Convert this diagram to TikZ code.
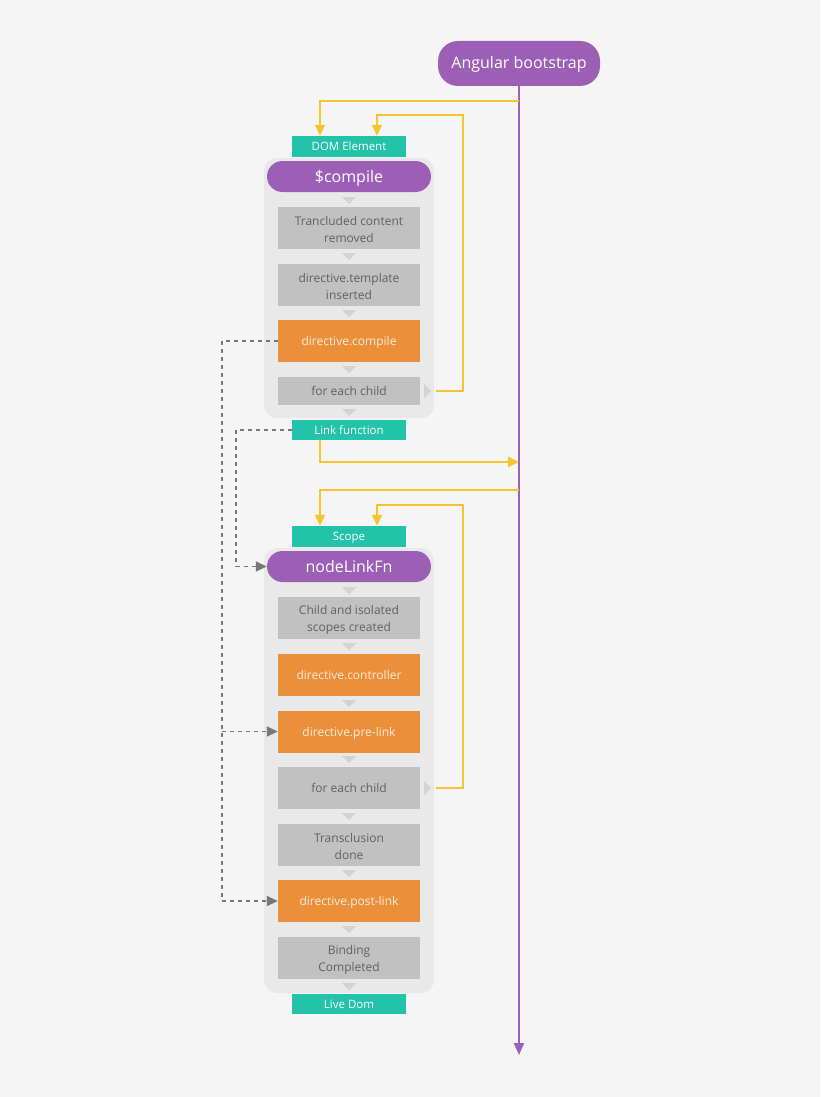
\documentclass[tikz,border=0pt]{standalone}
\usepackage{fontspec}
\setmainfont{Open Sans}
\usetikzlibrary{arrows.meta,calc}
\definecolor{bgc}{HTML}{F5F5F5}
\definecolor{purp}{HTML}{9C5FB5}
\definecolor{teal2}{HTML}{22C3A8}
\definecolor{orng}{HTML}{EB903A}
\definecolor{gbox}{HTML}{C1C1C1}
\definecolor{cont}{HTML}{E9E9E9}
\definecolor{gtext}{HTML}{616161}
\definecolor{otext}{HTML}{FBEADB}
\definecolor{yel}{HTML}{F4C531}
\definecolor{tri}{HTML}{D3D3D3}
\definecolor{dashc}{HTML}{777777}
\tikzset{
  pill/.style={fill=purp, text=white, minimum width=164pt, minimum height=31pt, rounded corners=15.5pt, inner sep=0pt, text height=13pt, text depth=2pt, font=\fontsize{16}{18}\selectfont},
  tealbox/.style={fill=teal2, text=white, minimum width=114pt, minimum height=21pt, inner sep=0pt, text height=10pt, text depth=2pt, font=\fontsize{11.5}{13}\selectfont},
  graybox/.style={fill=gbox, text=gtext, minimum width=142pt, minimum height=42pt, inner sep=0pt, align=center, font=\fontsize{12}{17}\selectfont},
  orangebox/.style={graybox, fill=orng, text=otext},
  oneline/.style={text height=11pt, text depth=2pt},
  container/.style={fill=cont, minimum width=170pt, rounded corners=13pt, inner sep=0pt},
  yline/.style={draw=yel, line width=2pt, -{Triangle[width=10pt,length=11pt]}},
  dline/.style={draw=dashc, line width=1.8pt, dash pattern=on 4pt off 4pt},
  darrow/.style={dline, -{Triangle[width=10pt,length=11pt]}},
  pline/.style={draw=purp, line width=2pt, -{Triangle[width=10pt,length=12pt]}},
}
\newcommand{\dtri}[2]{\fill[tri] (#1-7,#2) -- (#1+7,#2) -- (#1,#2+7) -- cycle;}
\newcommand{\rtri}[2]{\fill[tri] (#1,#2-7) -- (#1,#2+7) -- (#1+7,#2) -- cycle;}
\newcommand{\fst}{\rule{0pt}{12.5pt}}
\begin{document}
\begin{tikzpicture}[x=1pt,y=-1pt]
\fill[bgc] (0,0) rectangle (820,1097);
\useasboundingbox (0,0) rectangle (820,1097);

% containers
\node[container, minimum height=260pt] (c1) at (349,288) {};
\node[container, minimum height=445pt] (c2) at (349,770.5) {};

% top
\node[pill, minimum width=162pt, minimum height=45pt, rounded corners=20pt] (boot) at (519,63.5) {Angular bootstrap};
\coordinate (end) at (519,1055);

% first block
\node[tealbox] (dom) at (349,146.5) {DOM Element};
\node[pill] (compile) at (349,176.5) {\$compile};
\node[graybox] (t1) at (349,228) {\fst Trancluded content\\removed};
\node[graybox] (t2) at (349,285) {\fst directive.template\\inserted};
\node[orangebox, oneline] (t3) at (349,341) {directive.compile};
\node[graybox, oneline, minimum height=28pt] (t4) at (349,391) {for each child};
\node[tealbox, minimum height=20pt] (link) at (349,430) {Link function};

% second block
\node[tealbox] (scope) at (349,536.5) {Scope};
\node[pill] (nlf) at (349,566.5) {nodeLinkFn};
\node[graybox] (s1) at (349,618) {\fst Child and isolated\\scopes created};
\node[orangebox, oneline] (s2) at (349,675) {directive.controller};
\node[orangebox, oneline] (s3) at (349,731.5) {directive.pre-link};
\node[graybox, oneline] (s4) at (349,788) {for each child};
\node[graybox] (s5) at (349,845) {\fst Transclusion\\done};
\node[orangebox, oneline] (s6) at (349,901) {directive.post-link};
\node[graybox] (s7) at (349,958) {\fst Binding\\Completed};
\node[tealbox, minimum height=20pt] (live) at (349,1004) {Live Dom};

% small triangles
\dtri{349}{197}\dtri{349}{253}\dtri{349}{310}\dtri{349}{366}\dtri{349}{409}
\dtri{349}{587}\dtri{349}{643}\dtri{349}{700}\dtri{349}{756}\dtri{349}{813}\dtri{349}{870}\dtri{349}{926}\dtri{349}{983}
\rtri{424}{391}\rtri{424}{788}

% purple main line
\draw[pline] (boot.south) -- (end);

% yellow connectors
\coordinate (ya) at (519,101);
\coordinate (yb) at (436,391);
\coordinate (yc) at (463,115);
\coordinate (yd) at (519,462);
\coordinate (ye) at (519,490);
\coordinate (yf) at (436,788);
\coordinate (yg) at (463,505);
\draw[yline] (ya) -| ($(dom.north)+(-29,0)$);
\draw[yline] (yb) -| (yc) -| ($(dom.north)+(28,0)$);
\draw[yline] ($(link.south)+(-29,0)$) |- (yd);
\draw[yline] (ye) -| ($(scope.north)+(-29,0)$);
\draw[yline] (yf) -| (yg) -| ($(scope.north)+(28,0)$);

% dashed connectors
\coordinate (da) at (222,341);
\coordinate (db) at (236,430);
\draw[darrow] (t3.west) -- (da) |- (s6.west);
\draw[darrow] (da |- s3.west) -- (s3.west);
\draw[darrow] (link.west) -- (db) |- (nlf.west);
\end{tikzpicture}
\end{document}
